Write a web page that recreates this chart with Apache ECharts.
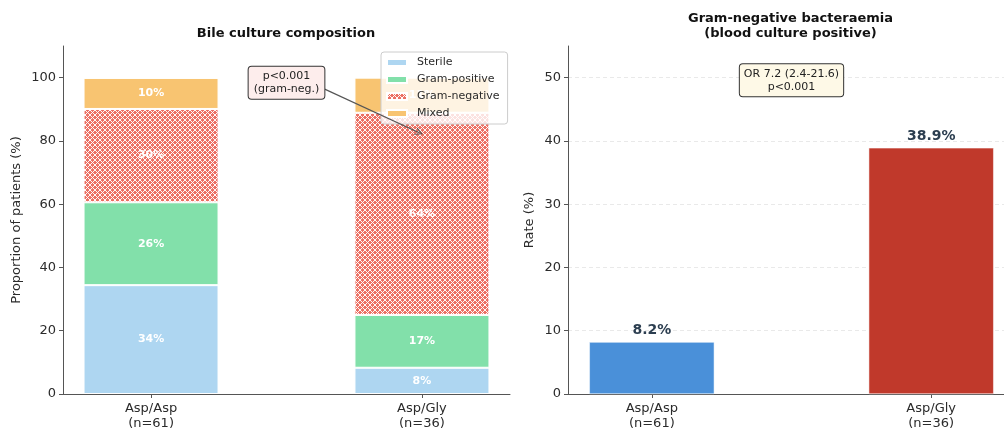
<!DOCTYPE html>
<html>
<head>
<meta charset="utf-8">
<script src="https://cdn.jsdelivr.net/npm/echarts@6/dist/echarts.min.js"></script>
<style>
html,body{margin:0;padding:0;background:#fff;}
#c{width:1004px;height:432px;}
</style>
</head>
<body>
<div id="c"></div>
<script>
// ---- data ----
const categories = ['Asp/Asp\n(n=61)', 'Asp/Gly\n(n=36)'];
const seriesNames = ['Sterile', 'Gram-positive', 'Gram-negative', 'Mixed'];
const sterile = [34.4, 8.3];
const gramPositive = [26.2, 16.7];
const gramNegative = [29.5, 63.9];
const mixed = [9.8, 11.1];
const bacteraemia = [8.2, 38.9];
const leftTicks = [0, 20, 40, 60, 80, 100];
const rightTicks = [0, 10, 20, 30, 40, 50];
const leftNote = 'p<0.001\n(gram-neg.)';
const rightNote = 'OR 7.2 (2.4-21.6)\np<0.001';
// annotation anchors (data units)
const leftNoteAt = [0.5, 98.4];
const arrowFrom = [0.635, 96.6];
const arrowTo = [0.99, 82.6];
const rightNoteAt = [0.5, 49.6];

const FONT = 'DejaVu Sans';
const TXT = '#2b2b2b';
const SPINE = '#555';

function hatchPattern() {
  const s = 5;
  const c = document.createElement('canvas');
  c.width = s; c.height = s;
  const g = c.getContext('2d');
  g.fillStyle = '#EC7063';
  g.fillRect(0, 0, s, s);
  g.strokeStyle = 'rgba(255,255,255,0.95)';
  g.lineWidth = 1;
  g.beginPath();
  g.moveTo(-1, -1); g.lineTo(s + 1, s + 1);
  g.moveTo(-1, s + 1); g.lineTo(s + 1, -1);
  g.stroke();
  return { image: c, repeat: 'repeat' };
}
const colors = ['#AED6F1', '#82E0AA', hatchPattern(), '#F8C471'];
const stackData = [sterile, gramPositive, gramNegative, mixed];

const chart = echarts.init(document.getElementById('c'), null, { renderer: 'canvas' });

const xAxisCommon = (gi, min, max) => ({
  type: 'value', gridIndex: gi, min: min, max: max,
  splitLine: { show: false },
  axisLine: { show: true, onZero: false, lineStyle: { color: SPINE, width: 1 } },
  axisTick: { show: true, length: 4, lineStyle: { color: SPINE }, customValues: [0, 1] },
  axisLabel: {
    customValues: [0, 1], margin: 7,
    formatter: v => categories[Math.round(v)],
    color: TXT, fontFamily: FONT, fontSize: 13, lineHeight: 15
  }
});
const yAxisCommon = (gi, max, ticks, name, gap, grid) => ({
  type: 'value', gridIndex: gi, min: 0, max: max,
  name: name, nameLocation: 'middle', nameGap: gap, nameRotate: 90,
  nameTextStyle: { color: TXT, fontFamily: FONT, fontSize: 13 },
  axisLine: { show: true, onZero: false, lineStyle: { color: SPINE, width: 1 } },
  axisTick: { show: true, length: 4, lineStyle: { color: SPINE }, customValues: ticks },
  axisLabel: { customValues: ticks, margin: 7, color: TXT, fontFamily: FONT, fontSize: 13 },
  splitLine: grid ? { show: true, lineStyle: { color: '#e3e3e3', type: [4, 3], width: 0.8 } } : { show: false }
});

// data stored as [value, position] so the stacked dimension is the value one
const series = stackData.map((arr, k) => ({
  name: seriesNames[k], type: 'bar', stack: 'bile', xAxisIndex: 0, yAxisIndex: 0,
  barWidth: 135,
  data: arr.map((v, i) => [v, i]),
  encode: { x: 1, y: 0 },
  itemStyle: { color: colors[k], borderColor: '#fff', borderWidth: 1 },
  label: {
    show: true, position: 'inside', color: '#fff', fontWeight: 'bold',
    fontFamily: FONT, fontSize: 11,
    formatter: p => Math.round(p.value[0]) + '%'
  },
  animation: false
}));

// annotation for left panel
series.push({
  type: 'scatter', xAxisIndex: 0, yAxisIndex: 0, data: [], z: 10, silent: true,
  markLine: {
    silent: true, animation: false,
    symbol: ['none', 'path://M0,10 L5,0 L10,10 L8.6,10 L5,2.6 L1.4,10 Z'], symbolSize: [8, 8],
    lineStyle: { color: '#555', width: 1.2, type: 'solid' },
    itemStyle: { color: '#555' },
    label: { show: false },
    data: [[{ coord: arrowFrom }, { coord: arrowTo }]]
  },
  markPoint: {
    silent: true, animation: false, symbol: 'rect', symbolSize: 0,
    data: [{ coord: leftNoteAt }],
    label: {
      show: true, position: 'inside', formatter: leftNote,
      color: '#222', fontFamily: FONT, fontSize: 11, lineHeight: 13,
      backgroundColor: '#FDEDEC', borderColor: '#333', borderWidth: 1, borderRadius: 3,
      padding: [3, 5, 3, 5], align: 'center'
    }
  }
});

// right panel
series.push({
  name: 'bacteraemia', type: 'bar', xAxisIndex: 1, yAxisIndex: 1, barWidth: 125,
  data: bacteraemia.map((v, i) => ({ value: [i, v], itemStyle: { color: i === 0 ? '#4A90D9' : '#C0392B' } })),
  itemStyle: { borderColor: '#fff', borderWidth: 0.5 },
  label: {
    show: true, position: 'top', distance: 5, color: '#2C3E50', fontWeight: 'bold',
    fontFamily: FONT, fontSize: 14, formatter: p => p.value[1].toFixed(1) + '%'
  },
  markPoint: {
    silent: true, animation: false, symbol: 'rect', symbolSize: 0,
    data: [{ coord: rightNoteAt }],
    label: {
      show: true, position: 'inside', formatter: rightNote,
      color: '#222', fontFamily: FONT, fontSize: 11, lineHeight: 13,
      backgroundColor: '#FEF9E7', borderColor: '#333', borderWidth: 1, borderRadius: 3,
      padding: [3, 4, 3, 4], align: 'center'
    }
  },
  animation: false
});

chart.setOption({
  animation: false,
  backgroundColor: '#fff',
  title: [
    { text: 'Bile culture composition', left: 281, top: 22, textAlign: 'center',
      textStyle: { fontFamily: FONT, fontSize: 13, fontWeight: 'bold', color: '#111' } },
    { text: 'Gram-negative bacteraemia\n(blood culture positive)', left: 785.5, top: 6, textAlign: 'center',
      textStyle: { fontFamily: FONT, fontSize: 13, fontWeight: 'bold', color: '#111', lineHeight: 15 } }
  ],
  legend: {
    data: seriesNames, orient: 'vertical', left: 381, top: 52,
    icon: 'rect', itemWidth: 20, itemHeight: 7, itemGap: 4,
    padding: [4, 8, 4, 5],
    backgroundColor: 'rgba(255,255,255,0.8)', borderColor: '#ccc', borderWidth: 1, borderRadius: 3,
    textStyle: { fontFamily: FONT, fontSize: 11, color: TXT, lineHeight: 13, padding: [0, 0, 0, 5] },
    selectedMode: false
  },
  grid: [
    { left: 63, width: 447, top: 46, bottom: 38, outerBoundsMode: 'none', containLabel: false },
    { left: 568, width: 447, top: 46, bottom: 38, outerBoundsMode: 'none', containLabel: false }
  ],
  xAxis: [xAxisCommon(0, -0.325, 1.325), xAxisCommon(1, -0.3, 1.3)],
  yAxis: [
    yAxisCommon(0, 110, leftTicks, 'Proportion of patients (%)', 40, false),
    yAxisCommon(1, 55, rightTicks, 'Rate (%)', 32, true)
  ],
  series: series
});
</script>
</body>
</html>
